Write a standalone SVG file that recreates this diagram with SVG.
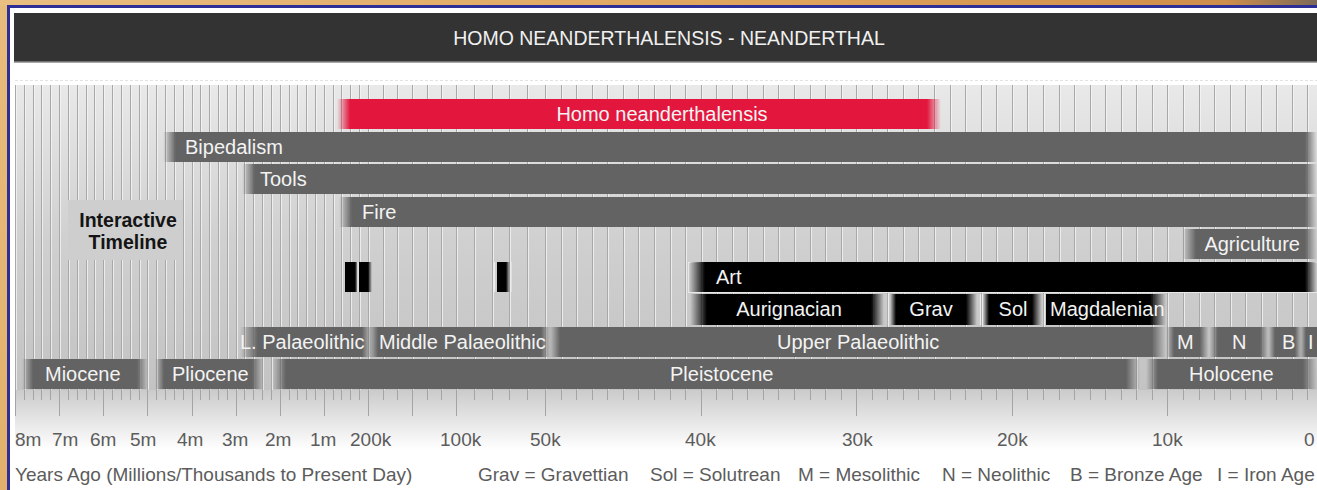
<svg xmlns="http://www.w3.org/2000/svg" width="1317" height="490" viewBox="0 0 1317 490">
<style>
text{font-family:"Liberation Sans",Arial,Helvetica,sans-serif}
.bt{font-size:20px;fill:#f3f3f3}
.ttl{font-size:19.5px;fill:#f0f0f0}
.ax{font-size:19px;fill:#5c5c5c}
.it{font-size:19.5px;font-weight:bold;fill:#141414}
.g{fill:#636363}.k{fill:#000}.r{fill:#e3173d}
.gi{fill:url(#giG)}.go{fill:url(#goG)}
.ki{fill:url(#kiK)}.ko{fill:url(#koK)}
.ri{fill:url(#riR)}.ro{fill:url(#roR)}
.wl{stroke:#ececec;stroke-width:1.2}
</style>
<defs>
<linearGradient id="topTan" x1="0" x2="1" y1="0" y2="0"><stop offset="0" stop-color="#e9bf82"/><stop offset="0.6" stop-color="#dea35c"/><stop offset="0.93" stop-color="#cf8f4c"/><stop offset="1" stop-color="#7d6a58"/></linearGradient>
<linearGradient id="leftTan" x1="0" x2="0" y1="0" y2="1"><stop offset="0" stop-color="#e8bc7c"/><stop offset="1" stop-color="#e2b06c"/></linearGradient>
<linearGradient id="gridBg" x1="0" y1="0" x2="0" y2="1"><stop offset="0" stop-color="#e9e9e9"/><stop offset="0.5" stop-color="#d0d0d0"/><stop offset="1" stop-color="#c3c3c3"/></linearGradient>
<linearGradient id="axBg" x1="0" y1="0" x2="0" y2="1"><stop offset="0" stop-color="#cbcbcb"/><stop offset="1" stop-color="#ffffff"/></linearGradient>
<linearGradient id="giG"><stop offset="0" stop-color="#636363" stop-opacity="0"/><stop offset="1" stop-color="#636363"/></linearGradient>
<linearGradient id="goG"><stop offset="0" stop-color="#636363"/><stop offset="1" stop-color="#636363" stop-opacity="0"/></linearGradient>
<linearGradient id="kiK"><stop offset="0" stop-color="#000" stop-opacity="0"/><stop offset="1" stop-color="#000"/></linearGradient>
<linearGradient id="koK"><stop offset="0" stop-color="#000"/><stop offset="1" stop-color="#000" stop-opacity="0"/></linearGradient>
<linearGradient id="riR"><stop offset="0" stop-color="#e3173d" stop-opacity="0"/><stop offset="1" stop-color="#e3173d"/></linearGradient>
<linearGradient id="roR"><stop offset="0" stop-color="#e3173d"/><stop offset="1" stop-color="#e3173d" stop-opacity="0"/></linearGradient>
<path id="gl" d="M15.5 85v305M24.5 85v305M33.5 85v305M41.5 85v305M50.5 85v305M59.5 85v305M68.5 85v305M77.5 85v305M86.5 85v305M94.5 85v305M103.5 85v305M112.5 85v305M121.5 85v305M130.5 85v305M139.5 85v305M147.5 85v305M156.5 85v305M165.5 85v305M174.5 85v305M183.5 85v305M192.5 85v305M200.5 85v305M209.5 85v305M218.5 85v305M227.5 85v305M236.5 85v305M244.5 85v305M253.5 85v305M262.5 85v305M271.5 85v305M280.5 85v305M289.5 85v305M297.5 85v305M306.5 85v305M315.5 85v305M324.5 85v305M333.5 85v305M341.5 85v305M350.5 85v305M359.5 85v305M368.5 85v305M383.5 85v305M397.5 85v305M412.5 85v305M427.5 85v305M441.5 85v305M456.5 85v305M474.5 85v305M492.5 85v305M509.5 85v305M527.5 85v305M545.5 85v305M561.5 85v305M576.5 85v305M592.5 85v305M607.5 85v305M623.5 85v305M638.5 85v305M654.5 85v305M670.5 85v305M685.5 85v305M701.5 85v305M716.5 85v305M732.5 85v305M747.5 85v305M763.5 85v305M778.5 85v305M794.5 85v305M810.5 85v305M825.5 85v305M841.5 85v305M856.5 85v305M872.5 85v305M887.5 85v305M903.5 85v305M918.5 85v305M934.5 85v305M950.5 85v305M965.5 85v305M981.5 85v305M996.5 85v305M1012.5 85v305M1027.5 85v305M1043.5 85v305M1059.5 85v305M1074.5 85v305M1090.5 85v305M1105.5 85v305M1121.5 85v305M1136.5 85v305M1152.5 85v305M1167.5 85v305M1183.5 85v305M1199.5 85v305M1214.5 85v305M1230.5 85v305M1245.5 85v305M1261.5 85v305M1276.5 85v305M1292.5 85v305M1307.5 85v305"/>
</defs>

<!-- frame -->
<rect x="0" y="0" width="1317" height="490" fill="url(#leftTan)"/>
<rect x="0" y="0" width="1317" height="6" fill="url(#topTan)"/>
<rect x="7" y="5" width="1310" height="485" fill="#2e2f96"/>
<rect x="10" y="8" width="1307" height="482" fill="#ffffff"/>

<!-- header -->
<g id="header">
<rect x="14" y="13" width="1303" height="49" fill="#333333"/>
<line x1="14" y1="62" x2="1317" y2="62" stroke="#8a8a8a" stroke-width="1.5"/>
<text class="ttl" x="669" y="45" text-anchor="middle">HOMO NEANDERTHALENSIS - NEANDERTHAL</text>
</g>

<line x1="15" y1="80.5" x2="1317" y2="80.5" stroke="#e2e2e2" stroke-dasharray="3 2"/>

<!-- grid -->
<g id="grid">
<rect x="15" y="85" width="1302" height="305" fill="url(#gridBg)"/>
<use href="#gl" x="1" stroke="#f6f6f6" stroke-opacity="0.75" fill="none"/>
<use href="#gl" stroke="#a8a8a8" fill="none"/>
<rect x="68" y="200" width="115" height="60" fill="#cecece"/>
<rect x="15" y="390" width="1302" height="60" fill="url(#axBg)"/>
</g>

<g id="ticks" stroke="#a4a4a4" fill="none">
<path d="M15.5 390v10M24.5 390v10M33.5 390v10M41.5 390v10M50.5 390v10M59.5 390v10M68.5 390v10M77.5 390v10M86.5 390v10M94.5 390v10M103.5 390v10M112.5 390v10M121.5 390v10M130.5 390v10M139.5 390v10M147.5 390v10M156.5 390v10M165.5 390v10M174.5 390v10M183.5 390v10M192.5 390v10M200.5 390v10M209.5 390v10M218.5 390v10M227.5 390v10M236.5 390v10M244.5 390v10M253.5 390v10M262.5 390v10M271.5 390v10M280.5 390v10M289.5 390v10M297.5 390v10M306.5 390v10M315.5 390v10M324.5 390v10M333.5 390v10M341.5 390v10M350.5 390v10M359.5 390v10M368.5 390v10M383.5 390v10M397.5 390v10M412.5 390v10M427.5 390v10M441.5 390v10M456.5 390v10M474.5 390v10M492.5 390v10M509.5 390v10M527.5 390v10M545.5 390v10M561.5 390v10M576.5 390v10M592.5 390v10M607.5 390v10M623.5 390v10M638.5 390v10M654.5 390v10M670.5 390v10M685.5 390v10M701.5 390v10M716.5 390v10M732.5 390v10M747.5 390v10M763.5 390v10M778.5 390v10M794.5 390v10M810.5 390v10M825.5 390v10M841.5 390v10M856.5 390v10M872.5 390v10M887.5 390v10M903.5 390v10M918.5 390v10M934.5 390v10M950.5 390v10M965.5 390v10M981.5 390v10M996.5 390v10M1012.5 390v10M1027.5 390v10M1043.5 390v10M1059.5 390v10M1074.5 390v10M1090.5 390v10M1105.5 390v10M1121.5 390v10M1136.5 390v10M1152.5 390v10M1167.5 390v10M1183.5 390v10M1199.5 390v10M1214.5 390v10M1230.5 390v10M1245.5 390v10M1261.5 390v10M1276.5 390v10M1292.5 390v10M1307.5 390v10"/>
<path d="M15.5 390v26M59.5 390v26M103.5 390v26M147.5 390v26M192.5 390v26M236.5 390v26M280.5 390v26M324.5 390v26M368.5 390v26M412.5 390v26M456.5 390v26M545.5 390v26M701.5 390v26M856.5 390v26M1012.5 390v26M1167.5 390v26"/>
</g>

<g id="interactive-timeline">
<text class="it" x="128" y="227" text-anchor="middle">Interactive</text>
<text class="it" x="128" y="249" text-anchor="middle">Timeline</text>
</g>

<!-- row 0 -->
<g id="homo-neanderthalensis">
<rect class="ri" x="337" y="99" width="13" height="30"/>
<rect class="r" x="350" y="99" width="577" height="30"/>
<rect class="ro" x="927" y="99" width="14" height="30"/>
<text class="bt" x="662" y="121" text-anchor="middle">Homo neanderthalensis</text>
</g>

<!-- row 1 -->
<g id="bipedalism">
<rect class="gi" x="163" y="132" width="13" height="30"/>
<rect class="g" x="176" y="132" width="1129" height="30"/>
<rect class="go" x="1305" y="132" width="12" height="30"/>
<text class="bt" x="185" y="153.5">Bipedalism</text>
</g>

<!-- row 2 -->
<g id="tools">
<rect class="gi" x="242" y="164" width="13" height="30"/>
<rect class="g" x="255" y="164" width="1050" height="30"/>
<rect class="go" x="1305" y="164" width="12" height="30"/>
<text class="bt" x="260" y="185.5">Tools</text>
</g>

<!-- row 3 -->
<g id="fire">
<rect class="gi" x="339" y="197" width="13" height="30"/>
<rect class="g" x="352" y="197" width="953" height="30"/>
<rect class="go" x="1305" y="197" width="12" height="30"/>
<text class="bt" x="362" y="218.5">Fire</text>
</g>

<!-- row 4 -->
<g id="agriculture">
<rect class="gi" x="1182" y="229" width="14" height="30"/>
<rect class="g" x="1196" y="229" width="109" height="30"/>
<rect class="go" x="1305" y="229" width="12" height="30"/>
<text class="bt" x="1300" y="250.5" text-anchor="end">Agriculture</text>
</g>

<!-- row 5 -->
<g id="art-markers">
<rect class="k" x="345" y="262" width="10" height="30"/>
<rect class="ko" x="355" y="262" width="3" height="30"/>
<line class="wl" x1="358" y1="262" x2="358" y2="292"/>
<rect class="k" x="359" y="262" width="9" height="30"/>
<rect class="ko" x="368" y="262" width="4" height="30"/>
<line class="wl" x1="494.5" y1="262" x2="494.5" y2="292"/>
<rect class="k" x="497" y="262" width="9" height="30"/>
<rect class="ko" x="506" y="262" width="4" height="30"/>
<line class="wl" x1="511" y1="262" x2="511" y2="292"/>
</g>
<g id="art">
<rect x="688.5" y="262.5" width="640" height="30" fill="none" stroke="#e8e8e8"/>
<rect class="ki" x="689" y="262" width="16" height="30"/>
<rect class="k" x="705" y="262" width="600" height="30"/>
<rect class="ko" x="1305" y="262" width="12" height="30"/>
<text class="bt" x="716" y="283.5">Art</text>
</g>

<!-- row 6 -->
<g id="aurignacian">
<rect class="ki" x="690" y="294" width="17" height="31"/>
<rect class="k" x="707" y="294" width="164" height="31"/>
<rect class="ko" x="871" y="294" width="13" height="31"/>
<line class="wl" x1="888.5" y1="294" x2="888.5" y2="325"/>
<text class="bt" x="789" y="315.5" text-anchor="middle">Aurignacian</text>
</g>
<g id="grav">
<rect class="ki" x="890" y="294" width="6" height="31"/>
<rect class="k" x="896" y="294" width="70" height="31"/>
<rect class="ko" x="966" y="294" width="11" height="31"/>
<line class="wl" x1="980.5" y1="294" x2="980.5" y2="325"/>
<text class="bt" x="931" y="315.5" text-anchor="middle">Grav</text>
</g>
<g id="sol">
<rect class="ki" x="983" y="294" width="6" height="31"/>
<rect class="k" x="989" y="294" width="43" height="31"/>
<rect class="ko" x="1032" y="294" width="10" height="31"/>
<line class="wl" x1="1044.5" y1="294" x2="1044.5" y2="325"/>
<text class="bt" x="1013" y="315.5" text-anchor="middle">Sol</text>
</g>
<g id="magdalenian">
<rect class="k" x="1046" y="294" width="104" height="31"/>
<rect class="ko" x="1150" y="294" width="16" height="31"/>
<text class="bt" x="1050" y="315.5">Magdalenian</text>
</g>

<!-- row 7 -->
<g id="lower-palaeolithic">
<rect class="gi" x="240" y="327" width="18" height="30"/>
<rect class="g" x="258" y="327" width="104" height="30"/>
<rect class="go" x="362" y="327" width="10" height="30"/>
<text class="bt" x="240" y="348.5">L. Palaeolithic</text>
</g>
<g id="middle-palaeolithic">
<rect class="gi" x="368" y="327" width="10" height="30"/>
<rect class="g" x="378" y="327" width="163" height="30"/>
<rect class="go" x="541" y="327" width="10" height="30"/>
<text class="bt" x="379" y="348.5">Middle Palaeolithic</text>
</g>
<g id="upper-palaeolithic">
<rect class="gi" x="549" y="327" width="11" height="30"/>
<rect class="g" x="560" y="327" width="592" height="30"/>
<rect class="go" x="1152" y="327" width="14" height="30"/>
<text class="bt" x="777" y="348.5">Upper Palaeolithic</text>
</g>
<g id="mesolithic">
<rect class="gi" x="1166" y="327" width="8" height="30"/>
<rect class="g" x="1174" y="327" width="26" height="30"/>
<rect class="go" x="1200" y="327" width="9" height="30"/>
<text class="bt" x="1177" y="348.5">M</text>
</g>
<g id="neolithic">
<rect class="gi" x="1209" y="327" width="9" height="30"/>
<rect class="g" x="1218" y="327" width="42" height="30"/>
<rect class="go" x="1260" y="327" width="9" height="30"/>
<text class="bt" x="1232" y="348.5">N</text>
</g>
<g id="bronze-age">
<rect class="gi" x="1268" y="327" width="7" height="30"/>
<rect class="g" x="1275" y="327" width="20" height="30"/>
<rect class="go" x="1295" y="327" width="7" height="30"/>
<text class="bt" x="1282" y="348.5">B</text>
</g>
<g id="iron-age">
<rect class="gi" x="1300" y="327" width="6" height="30"/>
<rect class="g" x="1306" y="327" width="11" height="30"/>
<text class="bt" x="1308" y="348.5">I</text>
</g>

<!-- row 8 -->
<g id="miocene">
<rect class="gi" x="22" y="359" width="11" height="30"/>
<rect class="g" x="33" y="359" width="104" height="30"/>
<rect class="go" x="137" y="359" width="11" height="30"/>
<text class="bt" x="45" y="380.5">Miocene</text>
</g>
<g id="pliocene">
<rect class="gi" x="155" y="359" width="9" height="30"/>
<rect class="g" x="164" y="359" width="88" height="30"/>
<rect class="go" x="252" y="359" width="12" height="30"/>
<text class="bt" x="172" y="380.5">Pliocene</text>
</g>
<g id="pleistocene">
<rect class="gi" x="272" y="359" width="14" height="30"/>
<rect class="g" x="286" y="359" width="840" height="30"/>
<rect class="go" x="1126" y="359" width="14" height="30"/>
<text class="bt" x="670" y="380.5">Pleistocene</text>
</g>
<g id="holocene">
<rect class="gi" x="1146" y="359" width="12" height="30"/>
<rect class="g" x="1158" y="359" width="145" height="30"/>
<rect class="go" x="1303" y="359" width="14" height="30"/>
<text class="bt" x="1189" y="380.5">Holocene</text>
</g>

<!-- axis labels -->
<g id="axis-labels">
<text class="ax" x="15" y="446">8m</text>
<text class="ax" x="52" y="446">7m</text>
<text class="ax" x="90" y="446">6m</text>
<text class="ax" x="130" y="446">5m</text>
<text class="ax" x="177" y="446">4m</text>
<text class="ax" x="222" y="446">3m</text>
<text class="ax" x="265" y="446">2m</text>
<text class="ax" x="310" y="446">1m</text>
<text class="ax" x="350" y="446">200k</text>
<text class="ax" x="440" y="446">100k</text>
<text class="ax" x="530" y="446">50k</text>
<text class="ax" x="685" y="446">40k</text>
<text class="ax" x="842" y="446">30k</text>
<text class="ax" x="997" y="446">20k</text>
<text class="ax" x="1152" y="446">10k</text>
<text class="ax" x="1304" y="446">0</text>
</g>

<g id="legend">
<text class="ax" x="15" y="481">Years Ago (Millions/Thousands to Present Day)</text>
<text class="ax" x="478" y="481">Grav = Gravettian</text>
<text class="ax" x="650" y="481">Sol = Solutrean</text>
<text class="ax" x="798" y="481">M = Mesolithic</text>
<text class="ax" x="942" y="481">N = Neolithic</text>
<text class="ax" x="1070" y="481">B = Bronze Age</text>
<text class="ax" x="1217" y="481">I = Iron Age</text>
</g>
</svg>
